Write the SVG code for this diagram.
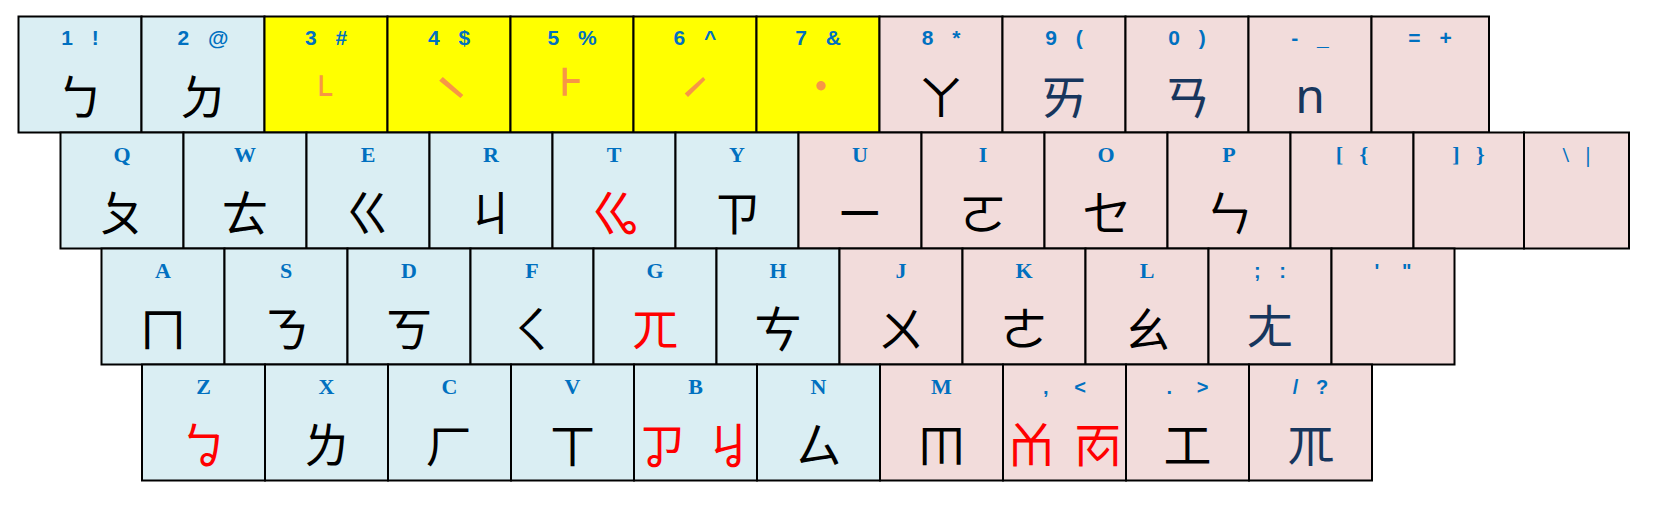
<svg xmlns="http://www.w3.org/2000/svg" width="1654" height="506" viewBox="0 0 1654 506">
<style>
.k{stroke:#000;stroke-width:2}
.b{fill:#DAEEF3}.p{fill:#F2DCDB}.y{fill:#FFFF00}
.l1{font-family:"Liberation Sans",Arial,sans-serif;font-weight:bold;font-size:21px;fill:#0070C0;text-anchor:middle;word-spacing:13px}
.l2{font-family:"Liberation Serif","Times New Roman",serif;font-weight:bold;font-size:22px;fill:#0070C0;text-anchor:middle;word-spacing:11px}
.l3{font-family:"Liberation Sans",Arial,sans-serif;font-weight:bold;font-size:20px;fill:#0070C0;text-anchor:middle}
.g{font-family:"Noto Sans CJK TC","Noto Sans CJK SC",sans-serif;font-size:48px;text-anchor:middle;fill:#000}
.r{fill:#FF0000}.nv{fill:#17365D}
.t{font-family:"Noto Sans CJK TC","DejaVu Sans",sans-serif;text-anchor:middle;fill:#F79646;dominant-baseline:central}
</style>
<rect width="1654" height="506" fill="#FFFFFF"/>
<!-- Row 1 -->
<g id="key-1"><rect class="k b" x="18.5" y="16.5" width="123" height="116"/><text class="l1" x="80" y="45">1 !</text><text class="g" x="80" y="115">ㄅ</text></g>
<g id="key-2"><rect class="k b" x="141.5" y="16.5" width="123" height="116"/><text class="l1" x="203" y="45">2 @</text><text class="g" x="203" y="115">ㄉ</text></g>
<g id="key-3"><rect class="k y" x="264.5" y="16.5" width="123" height="116"/><text class="l1" x="326" y="45">3 #</text><text class="t" x="325" y="92" font-size="40">˪</text></g>
<g id="key-4"><rect class="k y" x="387.5" y="16.5" width="123" height="116"/><text class="l1" x="449" y="45">4 $</text><text class="t" x="451" y="101" font-size="62">ˋ</text></g>
<g id="key-5"><rect class="k y" x="510.5" y="16.5" width="123" height="116"/><text class="l1" x="572" y="45">5 %</text><text class="t" x="570" y="90" font-size="54">˫</text></g>
<g id="key-6"><rect class="k y" x="633.5" y="16.5" width="123" height="116"/><text class="l1" x="695" y="45">6 ^</text><text class="t" x="695" y="100" font-size="56">ˊ</text></g>
<g id="key-7"><rect class="k y" x="756.5" y="16.5" width="123" height="116"/><text class="l1" x="818" y="45">7 &amp;</text><text class="t" x="821" y="83" font-size="50">˙</text></g>
<g id="key-8"><rect class="k p" x="879.5" y="16.5" width="123" height="116"/><text class="l1" x="941" y="45">8 *</text><text class="g" x="941" y="115">ㄚ</text></g>
<g id="key-9"><rect class="k p" x="1002.5" y="16.5" width="123" height="116"/><text class="l1" x="1064" y="45">9 (</text><text class="g nv" x="1064" y="115">ㄞ</text></g>
<g id="key-0"><rect class="k p" x="1125.5" y="16.5" width="123" height="116"/><text class="l1" x="1187" y="45">0 )</text><text class="g nv" x="1187" y="115">ㄢ</text></g>
<g id="key-minus"><rect class="k p" x="1248.5" y="16.5" width="123" height="116"/><text class="l1" x="1310" y="45">- _</text><text x="1310" y="113" fill="#17365D" font-family="Noto Sans, sans-serif" font-size="48" text-anchor="middle">n</text></g>
<g id="key-equal"><rect class="k p" x="1371.5" y="16.5" width="117.5" height="116"/><text class="l1" x="1430" y="45">= +</text></g>
<!-- Row 2 -->
<g id="key-q"><rect class="k b" x="60.5" y="132.5" width="123" height="116"/><text class="l2" x="122" y="162">Q</text><text class="g" x="122" y="231">ㄆ</text></g>
<g id="key-w"><rect class="k b" x="183.5" y="132.5" width="123" height="116"/><text class="l2" x="245" y="162">W</text><text class="g" x="245" y="231">ㄊ</text></g>
<g id="key-e"><rect class="k b" x="306.5" y="132.5" width="123" height="116"/><text class="l2" x="368" y="162">E</text><text class="g" x="368" y="231">ㄍ</text></g>
<g id="key-r"><rect class="k b" x="429.5" y="132.5" width="123" height="116"/><text class="l2" x="491" y="162">R</text><text class="g" x="491" y="231">ㄐ</text></g>
<g id="key-t"><rect class="k b" x="552.5" y="132.5" width="123" height="116"/><text class="l2" x="614" y="162">T</text><text class="g r" x="614" y="231">ㆣ</text></g>
<g id="key-y"><rect class="k b" x="675.5" y="132.5" width="123" height="116"/><text class="l2" x="737" y="162">Y</text><text class="g" x="737" y="231">ㄗ</text></g>
<g id="key-u"><rect class="k p" x="798.5" y="132.5" width="123" height="116"/><text class="l2" x="860" y="162">U</text><text class="g" x="860" y="231">ㄧ</text></g>
<g id="key-i"><rect class="k p" x="921.5" y="132.5" width="123" height="116"/><text class="l2" x="983" y="162">I</text><text class="g" x="983" y="231">ㄛ</text></g>
<g id="key-o"><rect class="k p" x="1044.5" y="132.5" width="123" height="116"/><text class="l2" x="1106" y="162">O</text><text class="g" x="1106" y="231">ㆤ</text></g>
<g id="key-p"><rect class="k p" x="1167.5" y="132.5" width="123" height="116"/><text class="l2" x="1229" y="162">P</text><text class="g" x="1229" y="231">ㄣ</text></g>
<g id="key-lbracket"><rect class="k p" x="1290.5" y="132.5" width="123" height="116"/><text class="l2" x="1352" y="162">[ {</text></g>
<g id="key-rbracket"><rect class="k p" x="1413.5" y="132.5" width="110.5" height="116"/><text class="l2" x="1468.5" y="162">] }</text></g>
<g id="key-backslash"><rect class="k p" x="1524" y="132.5" width="105" height="116"/><text class="l2" x="1576.5" y="162">\ |</text></g>
<!-- Row 3 -->
<g id="key-a"><rect class="k b" x="101.5" y="248.5" width="123" height="116"/><text class="l2" x="163" y="278">A</text><text class="g" x="163" y="347">ㄇ</text></g>
<g id="key-s"><rect class="k b" x="224.5" y="248.5" width="123" height="116"/><text class="l2" x="286" y="278">S</text><text class="g" x="286" y="347">ㄋ</text></g>
<g id="key-d"><rect class="k b" x="347.5" y="248.5" width="123" height="116"/><text class="l2" x="409" y="278">D</text><text class="g" x="409" y="347">ㄎ</text></g>
<g id="key-f"><rect class="k b" x="470.5" y="248.5" width="123" height="116"/><text class="l2" x="532" y="278">F</text><text class="g" x="532" y="347">ㄑ</text></g>
<g id="key-g"><rect class="k b" x="593.5" y="248.5" width="123" height="116"/><text class="l2" x="655" y="278">G</text><text class="g r" x="655" y="347">ㄫ</text></g>
<g id="key-h"><rect class="k b" x="716.5" y="248.5" width="123" height="116"/><text class="l2" x="778" y="278">H</text><text class="g" x="778" y="347">ㄘ</text></g>
<g id="key-j"><rect class="k p" x="839.5" y="248.5" width="123" height="116"/><text class="l2" x="901" y="278">J</text><text class="g" x="901" y="347">ㄨ</text></g>
<g id="key-k"><rect class="k p" x="962.5" y="248.5" width="123" height="116"/><text class="l2" x="1024" y="278">K</text><text class="g" x="1024" y="347">ㄜ</text></g>
<g id="key-l"><rect class="k p" x="1085.5" y="248.5" width="123" height="116"/><text class="l2" x="1147" y="278">L</text><text class="g" x="1147" y="347">ㄠ</text></g>
<g id="key-semicolon"><rect class="k p" x="1208.5" y="248.5" width="123" height="116"/><text class="l3" x="1270" y="278" style="word-spacing:13px">; :</text><text class="g nv" x="1270" y="344">ㄤ</text></g>
<g id="key-quote"><rect class="k p" x="1331.5" y="248.5" width="123" height="116"/><text class="l3" x="1393" y="278" style="word-spacing:17px">' "</text></g>
<!-- Row 4 -->
<g id="key-z"><rect class="k b" x="142" y="364.5" width="123" height="116"/><text class="l2" x="203.5" y="394">Z</text><text class="g r" x="203.5" y="463">ㆠ</text></g>
<g id="key-x"><rect class="k b" x="265" y="364.5" width="123" height="116"/><text class="l2" x="326.5" y="394">X</text><text class="g" x="326.5" y="463">ㄌ</text></g>
<g id="key-c"><rect class="k b" x="388" y="364.5" width="123" height="116"/><text class="l2" x="449.5" y="394">C</text><text class="g" x="449.5" y="463">ㄏ</text></g>
<g id="key-v"><rect class="k b" x="511" y="364.5" width="123" height="116"/><text class="l2" x="572.5" y="394">V</text><text class="g" x="572.5" y="463">ㄒ</text></g>
<g id="key-b"><rect class="k b" x="634" y="364.5" width="123" height="116"/><text class="l2" x="695.5" y="394">B</text><text class="g r" x="695.5" y="463" style="word-spacing:8px">ㆡ ㆢ</text></g>
<g id="key-n"><rect class="k b" x="757" y="364.5" width="123" height="116"/><text class="l2" x="818.5" y="394">N</text><text class="g" x="818.5" y="463">ㄙ</text></g>
<g id="key-m"><rect class="k p" x="880" y="364.5" width="123" height="116"/><text class="l2" x="941.5" y="394">M</text><text class="g" x="941.5" y="463">ㆬ</text></g>
<g id="key-comma"><rect class="k p" x="1003" y="364.5" width="123" height="116"/><text class="l3" x="1064.5" y="394" style="word-spacing:20px">, &lt;</text><text class="g r" x="1064.5" y="463" style="word-spacing:8px">ㆰ ㆱ</text></g>
<g id="key-period"><rect class="k p" x="1126" y="364.5" width="123" height="116"/><text class="l3" x="1187.5" y="394" style="word-spacing:19px">. &gt;</text><text class="g" x="1187.5" y="463">工</text></g>
<g id="key-slash"><rect class="k p" x="1249" y="364.5" width="123" height="116"/><text class="l3" x="1310.5" y="394" style="word-spacing:12px">/ ?</text><text class="g nv" x="1310.5" y="463">ㆭ</text></g>
<g id="connectors"></g>
</svg>
